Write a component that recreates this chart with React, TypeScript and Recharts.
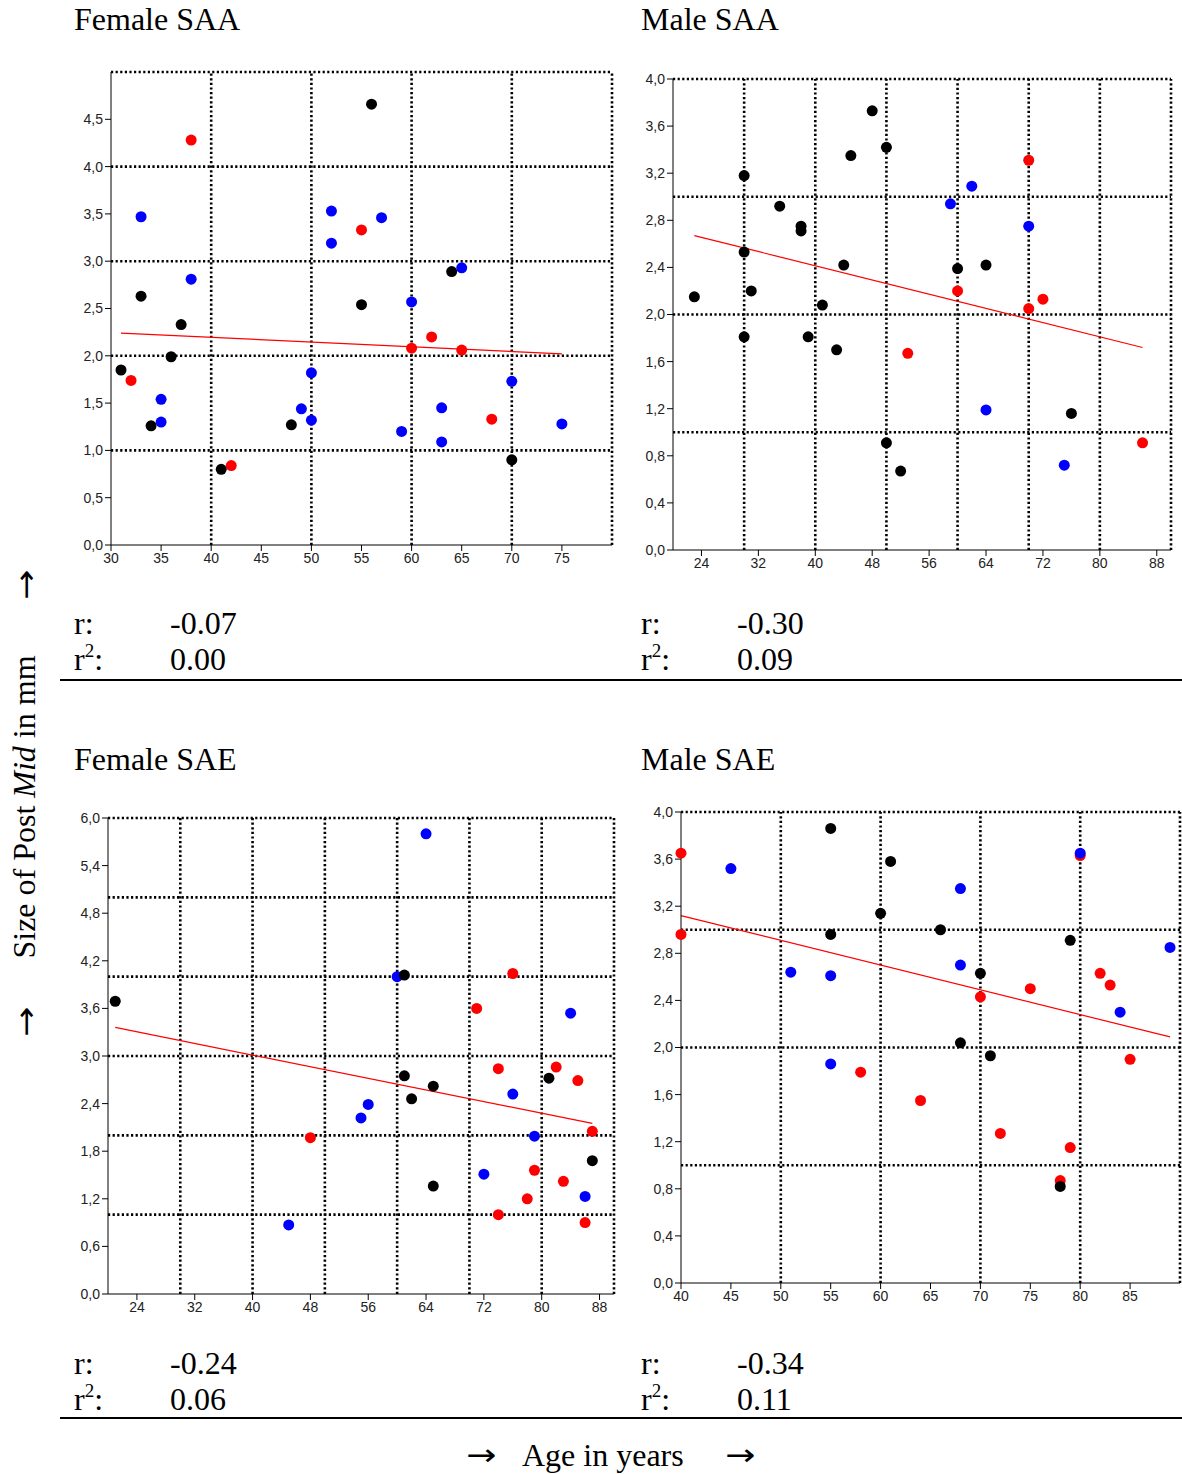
import React from "react"
import { ScatterChart, Scatter, XAxis, YAxis, ReferenceLine } from "recharts"

type Pt = [number, number]

const panelTitles = ["Female SAA", "Male SAA", "Female SAE", "Male SAE"]
const rValues = ["-0.07", "-0.30", "-0.24", "-0.34"]
const r2Values = ["0.00", "0.09", "0.06", "0.11"]

// Female SAA
const fSaaXTicks = [30, 35, 40, 45, 50, 55, 60, 65, 70, 75]
const fSaaYTicks = [0, 0.5, 1, 1.5, 2, 2.5, 3, 3.5, 4, 4.5]
const fSaaBlack: Pt[] = [
  [31, 1.85], [33, 2.63], [34, 1.26], [36, 1.99], [37, 2.33], [41, 0.8],
  [48, 1.27], [55, 2.54], [56, 4.66], [64, 2.89], [70, 0.9],
]
const fSaaRed: Pt[] = [
  [32, 1.74], [38, 4.28], [42, 0.84], [55, 3.33], [60, 2.08], [62, 2.2], [65, 2.06], [68, 1.33],
]
const fSaaBlue: Pt[] = [
  [33, 3.47], [35, 1.54], [35, 1.3], [38, 2.81], [49, 1.44], [50, 1.82], [50, 1.32],
  [52, 3.53], [52, 3.19], [57, 3.46], [59, 1.2], [60, 2.57], [63, 1.45], [63, 1.09],
  [65, 2.93], [70, 1.73], [75, 1.28],
]
const fSaaFit: Pt[] = [[31, 2.24], [75, 2.02]]

// Male SAA
const mSaaXTicks = [24, 32, 40, 48, 56, 64, 72, 80, 88]
const mSaaYTicks = [0, 0.4, 0.8, 1.2, 1.6, 2, 2.4, 2.8, 3.2, 3.6, 4]
const mSaaBlack: Pt[] = [
  [23, 2.15], [30, 3.18], [30, 2.53], [30, 1.81], [31, 2.2], [35, 2.92], [38, 2.75],
  [38, 2.71], [39, 1.81], [41, 2.08], [43, 1.7], [44, 2.42], [45, 3.35], [48, 3.73],
  [50, 3.42], [50, 0.91], [52, 0.67], [60, 2.39], [64, 2.42], [76, 1.16],
]
const mSaaRed: Pt[] = [[53, 1.67], [60, 2.2], [70, 3.31], [70, 2.05], [72, 2.13], [86, 0.91]]
const mSaaBlue: Pt[] = [[59, 2.94], [62, 3.09], [70, 2.75], [64, 1.19], [75, 0.72]]
const mSaaFit: Pt[] = [[23, 2.67], [86, 1.72]]

// Female SAE
const fSaeXTicks = [24, 32, 40, 48, 56, 64, 72, 80, 88]
const fSaeYTicks = [0, 0.6, 1.2, 1.8, 2.4, 3, 3.6, 4.2, 4.8, 5.4, 6]
const fSaeBlack: Pt[] = [
  [21, 3.69], [61, 4.02], [61, 2.75], [62, 2.46], [65, 2.62], [65, 1.36], [81, 2.72], [87, 1.68],
]
const fSaeRed: Pt[] = [
  [48, 1.97], [71, 3.6], [76, 4.04], [74, 2.84], [74, 1.0], [78, 1.2], [79, 1.56],
  [82, 2.86], [83, 1.42], [85, 2.69], [86, 0.9], [87, 2.05],
]
const fSaeBlue: Pt[] = [
  [45, 0.87], [55, 2.22], [56, 2.39], [60, 4.0], [64, 5.8], [72, 1.51], [76, 2.52],
  [79, 1.99], [84, 3.54], [86, 1.23],
]
const fSaeFit: Pt[] = [[21, 3.36], [87, 2.15]]

// Male SAE
const mSaeXTicks = [40, 45, 50, 55, 60, 65, 70, 75, 80, 85]
const mSaeYTicks = [0, 0.4, 0.8, 1.2, 1.6, 2, 2.4, 2.8, 3.2, 3.6, 4]
const mSaeBlack: Pt[] = [
  [55, 3.86], [61, 3.58], [60, 3.14], [55, 2.96], [66, 3.0], [70, 2.63], [68, 2.04],
  [71, 1.93], [79, 2.91], [78, 0.82],
]
const mSaeRed: Pt[] = [
  [40, 3.65], [40, 2.96], [58, 1.79], [64, 1.55], [70, 2.43], [72, 1.27], [75, 2.5],
  [78, 0.87], [79, 1.15], [80, 3.63], [82, 2.63], [83, 2.53], [85, 1.9],
]
const mSaeBlue: Pt[] = [
  [45, 3.52], [51, 2.64], [55, 2.61], [55, 1.86], [68, 3.35], [68, 2.7], [80, 3.65],
  [84, 2.3], [89, 2.85],
]
const mSaeFit: Pt[] = [[40, 3.12], [89, 2.09]]

const SERIF = "'Liberation Serif', 'Times New Roman', serif"
const SANS = "'Liberation Sans', Arial, sans-serif"
const ARROW = "'DejaVu Sans', sans-serif"

const toRows = (pts: Pt[]) => pts.map(([x, y]) => ({ x, y }))
const comma = (v: number, d: number) => v.toFixed(d).replace(".", ",")

const dot = (color: string) => (p: any) => <circle cx={p.cx} cy={p.cy} r={5.5} fill={color} />

interface PanelProps {
  box: number[]
  xDomain: number[]
  yDomain: number[]
  xTicks: number[]
  yTicks: number[]
  xGrid: number[]
  yGrid: number[]
  black: Pt[]
  red: Pt[]
  blue: Pt[]
  fit: Pt[]
}

function Panel(props: PanelProps) {
  const [left, top, w, h] = props.box
  const margin = { top: 10, right: 2, left: 0, bottom: 0 }
  const yw = 50
  const xh = 30
  const tick = { fontSize: 14, fill: "#222", fontFamily: SANS }
  const dotted = { stroke: "#000", strokeWidth: 2.6, strokeDasharray: "2.2 2.4" }
  return (
    <div style={{ position: "absolute", left: left - yw, top: top - margin.top }}>
      <ScatterChart width={yw + w + margin.right} height={margin.top + h + xh} margin={margin}>
        <XAxis
          type="number"
          dataKey="x"
          domain={props.xDomain}
          ticks={props.xTicks}
          interval={0}
          height={xh}
          tick={tick}
          tickLine={{ stroke: "#000" }}
          axisLine={{ stroke: "#000" }}
          tickFormatter={(v: number) => String(v)}
        />
        <YAxis
          type="number"
          dataKey="y"
          domain={props.yDomain}
          ticks={props.yTicks}
          interval={0}
          width={yw}
          tick={tick}
          tickLine={{ stroke: "#000" }}
          axisLine={{ stroke: "#000" }}
          tickFormatter={(v: number) => comma(v, 1)}
        />
        {props.xGrid.map((v) => (
          <ReferenceLine key={"gx" + v} x={v} {...dotted} />
        ))}
        {props.yGrid.map((v) => (
          <ReferenceLine key={"gy" + v} y={v} {...dotted} />
        ))}
        <Scatter data={toRows(props.red)} fill="#ff0000" shape={dot("#ff0000")} isAnimationActive={false} />
        <Scatter data={toRows(props.blue)} fill="#0000ff" shape={dot("#0000ff")} isAnimationActive={false} />
        <Scatter data={toRows(props.black)} fill="#000" shape={dot("#000")} isAnimationActive={false} />
        <ReferenceLine
          segment={props.fit.map(([x, y]) => ({ x, y }))}
          stroke="#ff0000"
          strokeWidth={1.2}
        />
      </ScatterChart>
    </div>
  )
}

function Stats({ x, y, i }: { x: number; y: number; i: number }) {
  return (
    <g fontFamily={SERIF} fontSize={32} fill="#000">
      <text x={x} y={y}>r:</text>
      <text x={x + 96} y={y}>{rValues[i]}</text>
      <text x={x} y={y + 36}>
        r<tspan fontSize={19} dy={-13}>2</tspan>
        <tspan dy={13}>:</tspan>
      </text>
      <text x={x + 96} y={y + 36}>{r2Values[i]}</text>
    </g>
  )
}

function Arrow({ x, y, rotate }: { x: number; y: number; rotate?: boolean }) {
  const t = rotate
    ? `translate(${x} ${y}) rotate(-90) scale(1.2 1)`
    : `translate(${x} ${y}) scale(1.2 1)`
  return (
    <text x={0} y={0} textAnchor="middle" transform={t} fontFamily={ARROW} fontSize={30} fill="#000">
      →
    </text>
  )
}

export default function App() {
  return (
    <div
      style={{
        position: "absolute",
        left: 0,
        top: 0,
        width: 1182,
        height: 1474,
        overflow: "hidden",
        background: "#fff",
      }}
    >
      <svg width={1182} height={1474} style={{ position: "absolute", left: 0, top: 0 }}>
        <g fontFamily={SERIF} fontSize={32} fill="#000">
          <text x={74} y={30}>{panelTitles[0]}</text>
          <text x={641} y={30}>{panelTitles[1]}</text>
          <text x={74} y={770}>{panelTitles[2]}</text>
          <text x={641} y={770}>{panelTitles[3]}</text>
        </g>
        <Stats x={74} y={634} i={0} />
        <Stats x={641} y={634} i={1} />
        <Stats x={74} y={1374} i={2} />
        <Stats x={641} y={1374} i={3} />
        <line x1={60} x2={1182} y1={680} y2={680} stroke="#000" strokeWidth={2} />
        <line x1={60} x2={1182} y1={1418} y2={1418} stroke="#000" strokeWidth={2} />
        <g fontFamily={SERIF} fontSize={32} fill="#000">
          <text x={35} y={807} textAnchor="middle" transform="rotate(-90 35 807)">
            Size of Post <tspan fontStyle="italic">Mid</tspan> in mm
          </text>
          <text x={522} y={1466}>Age in years</text>
        </g>
        <Arrow x={36} y={585} rotate />
        <Arrow x={36} y={1022} rotate />
        <Arrow x={481} y={1465} />
        <Arrow x={740} y={1465} />
      </svg>
      <Panel
        box={[111, 72, 501, 473]}
        xDomain={[30, 80]}
        yDomain={[0, 5]}
        xTicks={fSaaXTicks}
        yTicks={fSaaYTicks}
        xGrid={[40, 50, 60, 70, 80]}
        yGrid={[1, 2, 3, 4, 5]}
        black={fSaaBlack}
        red={fSaaRed}
        blue={fSaaBlue}
        fit={fSaaFit}
      />
      <Panel
        box={[673, 79, 498, 471]}
        xDomain={[20, 90]}
        yDomain={[0, 4]}
        xTicks={mSaaXTicks}
        yTicks={mSaaYTicks}
        xGrid={[30, 40, 50, 60, 70, 80, 90]}
        yGrid={[1, 2, 3, 4]}
        black={mSaaBlack}
        red={mSaaRed}
        blue={mSaaBlue}
        fit={mSaaFit}
      />
      <Panel
        box={[108, 818, 506, 476]}
        xDomain={[20, 90]}
        yDomain={[0, 6]}
        xTicks={fSaeXTicks}
        yTicks={fSaeYTicks}
        xGrid={[30, 40, 50, 60, 70, 80, 90]}
        yGrid={[1, 2, 3, 4, 5, 6]}
        black={fSaeBlack}
        red={fSaeRed}
        blue={fSaeBlue}
        fit={fSaeFit}
      />
      <Panel
        box={[681, 812, 499, 471]}
        xDomain={[40, 90]}
        yDomain={[0, 4]}
        xTicks={mSaeXTicks}
        yTicks={mSaeYTicks}
        xGrid={[50, 60, 70, 80, 90]}
        yGrid={[1, 2, 3, 4]}
        black={mSaeBlack}
        red={mSaeRed}
        blue={mSaeBlue}
        fit={mSaeFit}
      />
    </div>
  )
}
